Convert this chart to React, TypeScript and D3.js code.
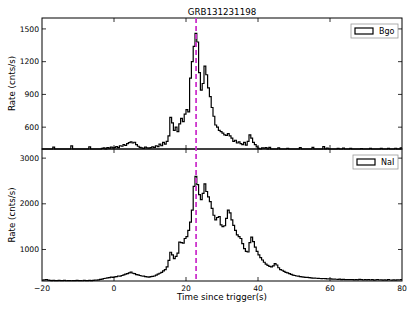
import * as d3 from 'd3'

const title = 'GRB131231198'
const binStart = -20
const binWidth = 0.5
const peakTime = 22.8

// Bgo rate per 0.5 s bin, -20 s .. 80 s
const bgoRates = [
  400, 400, 400, 400, 400, 400, 418, 400, 400, 400,
  400, 400, 400, 400, 400, 400, 428, 400, 400, 400,
  400, 400, 400, 400, 400, 400, 420, 400, 400, 400,
  400, 400, 400, 405, 410, 400, 412, 408, 418, 410,
  415, 422, 412, 430, 425, 440, 432, 450, 458, 465,
  455, 462, 440, 425, 415, 410, 405, 418, 410, 408,
  412, 420, 415, 430, 422, 445, 430, 460, 445, 470,
  520, 690, 640, 570, 600, 560, 630, 680, 650, 720,
  760, 740, 1050, 1200, 1340, 1460, 1380, 1100, 940, 1000,
  1160, 1080, 960, 880, 780, 700, 620, 600, 570, 560,
  545, 530, 525, 540, 520, 500, 470, 480, 455, 465,
  450, 440, 460, 435, 470, 530, 500, 460, 440, 420,
  405, 400, 410, 408, 412, 400, 415, 400, 400, 400,
  400, 410, 400, 400, 400, 400, 405, 400, 400, 400,
  400, 400, 400, 412, 400, 400, 400, 400, 400, 400,
  415, 400, 400, 400, 400, 400, 422, 400, 408, 400,
  400, 400, 400, 400, 405, 400, 400, 408, 400, 400,
  400, 406, 400, 400, 400, 400, 400, 404, 400, 400,
  400, 400, 406, 400, 400, 400, 400, 400, 405, 400,
  400, 400, 405, 400, 400, 400, 407, 400, 400, 410,
]

// NaI rate per 0.5 s bin, -20 s .. 80 s
const naiRates = [
  330, 335, 340, 330, 325, 320, 322, 318, 320, 325,
  320, 318, 322, 316, 320, 318, 315, 320, 318, 322,
  318, 320, 316, 322, 318, 320, 325, 318, 322, 330,
  328, 335, 345, 350, 365, 370, 380, 385, 395, 390,
  400, 405, 420, 415, 430, 445, 460, 470, 490, 505,
  480, 470, 450, 445, 430, 420, 415, 405, 400, 395,
  405, 410, 420, 440, 460, 480, 500, 530, 560, 620,
  760, 940, 880, 800, 850, 920, 1160, 1150, 1140, 1240,
  1280, 1420, 1600, 1860, 2380, 2600, 2420, 2200, 2090, 2230,
  2435, 2270, 2150, 2050, 1900, 1750, 1650, 1700, 1720, 1540,
  1500, 1520, 1680, 1860, 1800, 1650, 1530, 1420, 1320, 1280,
  1240, 1130, 1020, 960, 945, 1150, 1270, 1170, 1050, 960,
  880, 820, 770, 720, 680, 650, 630, 620, 640, 690,
  660, 600, 560, 545, 520, 500, 490, 470, 455, 440,
  430, 420, 415, 405, 400, 395, 390, 388, 385, 380,
  375, 372, 370, 368, 365, 362, 365, 360, 358, 355,
  355, 350, 352, 348, 345, 350, 342, 345, 340, 342,
  340, 338, 342, 336, 340, 335, 345, 338, 332, 340,
  336, 340, 332, 338, 330, 335, 340, 332, 336, 330,
  335, 330, 338, 332, 328, 336, 330, 334, 332, 340,
]

const xTicks = [-20, 0, 20, 40, 60, 80]
const bgoTicks = [600, 900, 1200, 1500]
const naiTicks = [1000, 2000, 3000]

const W = 415
const H = 312
const left = 42
const right = 402
const font = 'DejaVu Sans, sans-serif'

const x = d3.scaleLinear().domain([-20, 80]).range([left, right])

function Panel({ rates, domain, top, bottom, ticks, label, showX }: any) {
  const y = d3.scaleLinear().domain(domain).range([bottom, top])
  const pts: [number, number][] = rates.map((v: number, i: number) => [binStart + i * binWidth, v])
  pts.push([binStart + rates.length * binWidth, rates[rates.length - 1]])
  const line = d3.line<[number, number]>()
    .x(d => x(d[0]))
    .y(d => y(d[1]))
    .curve(d3.curveStepAfter)
  const mid = (top + bottom) / 2
  const legW = label === 'Bgo' ? 47 : 45
  const legX = right - 4 - legW
  const legY = top + 6
  return (
    <g>
      <path d={line(pts) || ''} fill='none' stroke='#000' strokeWidth={1.2} />
      {xTicks.slice(1, -1).map(t => (
        <g key={t} stroke='#000' strokeWidth={0.8}>
          <line x1={x(t)} x2={x(t)} y1={bottom} y2={bottom - 4} />
          <line x1={x(t)} x2={x(t)} y1={top} y2={top + 4} />
        </g>
      ))}
      {ticks.map((t: number) => (
        <g key={t}>
          <line x1={left} x2={left + 4} y1={y(t)} y2={y(t)} stroke='#000' strokeWidth={0.8} />
          <line x1={right} x2={right - 4} y1={y(t)} y2={y(t)} stroke='#000' strokeWidth={0.8} />
          <text x={left - 3} y={y(t)} dy='0.35em' textAnchor='end' fontSize={7.6} fontFamily={font}>{t}</text>
        </g>
      ))}
      {showX && xTicks.map(t => (
        <text key={t} x={x(t)} y={bottom + 10} textAnchor='middle' fontSize={7.6} fontFamily={font}>
          {t < 0 ? '\u2212' + Math.abs(t) : t}
        </text>
      ))}
      <rect x={left} y={top} width={right - left} height={bottom - top} fill='none' stroke='#000' strokeWidth={1} />
      <text transform={`translate(15,${mid}) rotate(-90)`} textAnchor='middle' fontSize={8.7} fontFamily={font}>Rate (cnts/s)</text>
      <rect x={legX} y={legY} width={legW} height={14} fill='#fff' stroke='#999' strokeWidth={0.8} />
      <rect x={legX + 4} y={legY + 4} width={18} height={6} fill='#fff' stroke='#000' strokeWidth={1.2} />
      <text x={legX + 28} y={legY + 10} fontSize={8} fontFamily={font}>{label}</text>
    </g>
  )
}

export default function App() {
  return (
    <svg width={W} height={H} style={{ position: 'absolute', left: 0, top: 0, background: '#fff' }}>
      <rect width={W} height={H} fill='#fff' />
      <text x={(left + right) / 2} y={14.5} textAnchor='middle' fontSize={8.7} fontFamily={font}>{title}</text>
      <Panel rates={bgoRates} domain={[400, 1600]} top={18} bottom={149} ticks={bgoTicks} label='Bgo' showX={false} />
      <Panel rates={naiRates} domain={[310, 3200]} top={149} bottom={281} ticks={naiTicks} label='NaI' showX={true} />
      <line x1={x(peakTime)} x2={x(peakTime)} y1={18} y2={281} stroke='#cc33cc' strokeWidth={1.8} strokeDasharray='5,3' />
      <text x={(left + right) / 2} y={300} textAnchor='middle' fontSize={8.7} fontFamily={font}>Time since trigger(s)</text>
    </svg>
  )
}
